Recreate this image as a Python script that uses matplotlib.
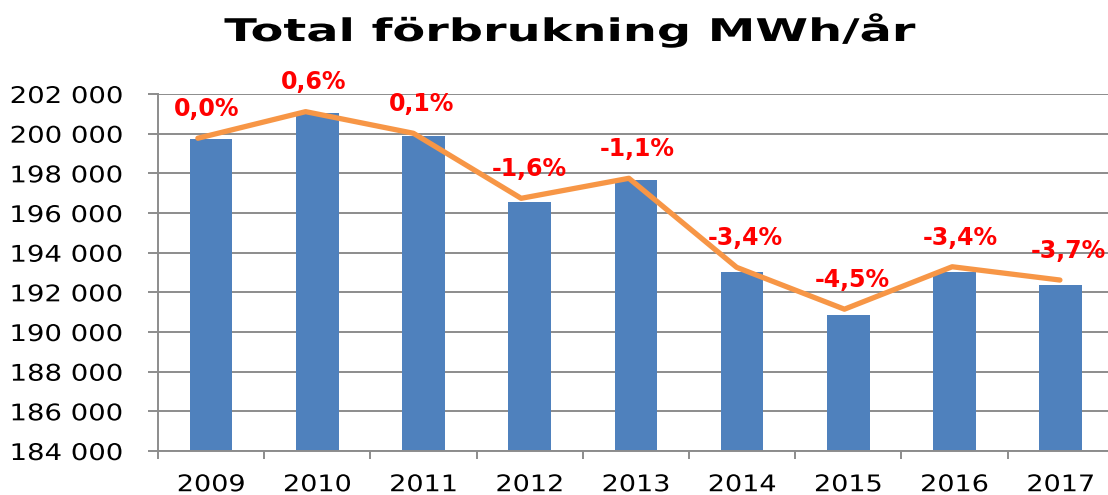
import numpy as np
import matplotlib
matplotlib.use("Agg")
import matplotlib.pyplot as plt
from matplotlib.ticker import FuncFormatter
from matplotlib.patheffects import AbstractPathEffect
from matplotlib.transforms import Affine2D

years = ["2009", "2010", "2011", "2012", "2013", "2014", "2015", "2016", "2017"]
consumption = [199730, 201030, 199900, 196570, 197670, 193030, 190870, 193030, 192370]
trend = [199770, 201110, 200020, 196740, 197750, 193260, 191150, 193290, 192620]
change_labels = ["0,0%", "0,6%", "0,1%", "-1,6%", "-1,1%", "-3,4%", "-4,5%", "-3,4%", "-3,7%"]
yticks = np.arange(184000, 202001, 2000)

BLUE = "#4F81BD"
ORANGE = "#F79646"
GRID = "#8c8c8c"


class Stretch(AbstractPathEffect):
    """Widen text horizontally (the source chart was stretched sideways)."""
    def __init__(self, sx, anchor="center"):
        super().__init__()
        self.sx = sx
        self.anchor = anchor

    def draw_path(self, renderer, gc, tpath, affine, rgbFace=None):
        ext = tpath.get_extents()
        x0 = ext.x1 if self.anchor == "right" else (ext.x0 + ext.x1) / 2.
        t = Affine2D().translate(-x0, 0).scale(self.sx, 1).translate(x0, 0) + affine
        renderer.draw_path(gc, tpath, t, rgbFace)


W, H = 1108, 495
fig = plt.figure(figsize=(W / 100., H / 100.), dpi=100)
# axes in pixel terms: left 158, bottom 451, top 94, 106.2 px per category
ax = fig.add_axes([158 / W, 44 / H, 9 * 106.2 / W, 357 / H])

x = np.arange(len(years))
ax.bar(x, consumption, width=0.4, color=BLUE, zorder=2)
ax.set_xlim(-0.5, 8.5)
ax.set_ylim(184000, 202000)

ax.set_yticks(yticks)
ax.yaxis.set_major_formatter(FuncFormatter(lambda v, p: f"{v:,.0f}".replace(",", " ")))
ax.set_xticks(x)
ax.set_xticklabels(years)
ax.set_xticks(np.arange(-0.5, 9.0, 1), minor=True)

ax.grid(axis="y", color=GRID, linewidth=1.4)
ax.set_axisbelow(True)
for side in ["top", "right"]:
    ax.spines[side].set_visible(False)
for side in ["left", "bottom"]:
    ax.spines[side].set_color(GRID)
    ax.spines[side].set_linewidth(1.4)

ax.tick_params(axis="y", length=7.5, width=1.4, color=GRID, pad=18, labelsize=16.5)
ax.tick_params(axis="x", which="major", length=0, pad=16, labelsize=16.5)
ax.tick_params(axis="x", which="minor", length=6, width=1.4, color=GRID)

for lab in ax.get_yticklabels():
    lab.set_path_effects([Stretch(1.2, "right")])
for lab in ax.get_xticklabels():
    lab.set_path_effects([Stretch(1.18)])

# trend line sits on a secondary category axis, slightly offset like in Excel
ax2 = ax.twiny()
ax2.set_xlim(-0.37, 8.5)
ax2.set_axis_off()
ax2.plot(x, trend, color=ORANGE, linewidth=3.8, solid_capstyle="round",
         solid_joinstyle="round", zorder=3)
for xi, yi, txt in zip(x, trend, change_labels):
    ax2.annotate(txt, (xi, yi), xytext=(6, 21), textcoords="offset points",
                 ha="center", va="center", color="#FF0000", fontsize=17,
                 fontweight="bold", annotation_clip=False)

title = fig.text(570 / W, 454 / H, "Total förbrukning MWh/år", ha="center",
                 va="baseline", fontsize=22.5, fontweight="bold")
title.set_path_effects([Stretch(1.53)])

fig.savefig("out.png", dpi=100)
